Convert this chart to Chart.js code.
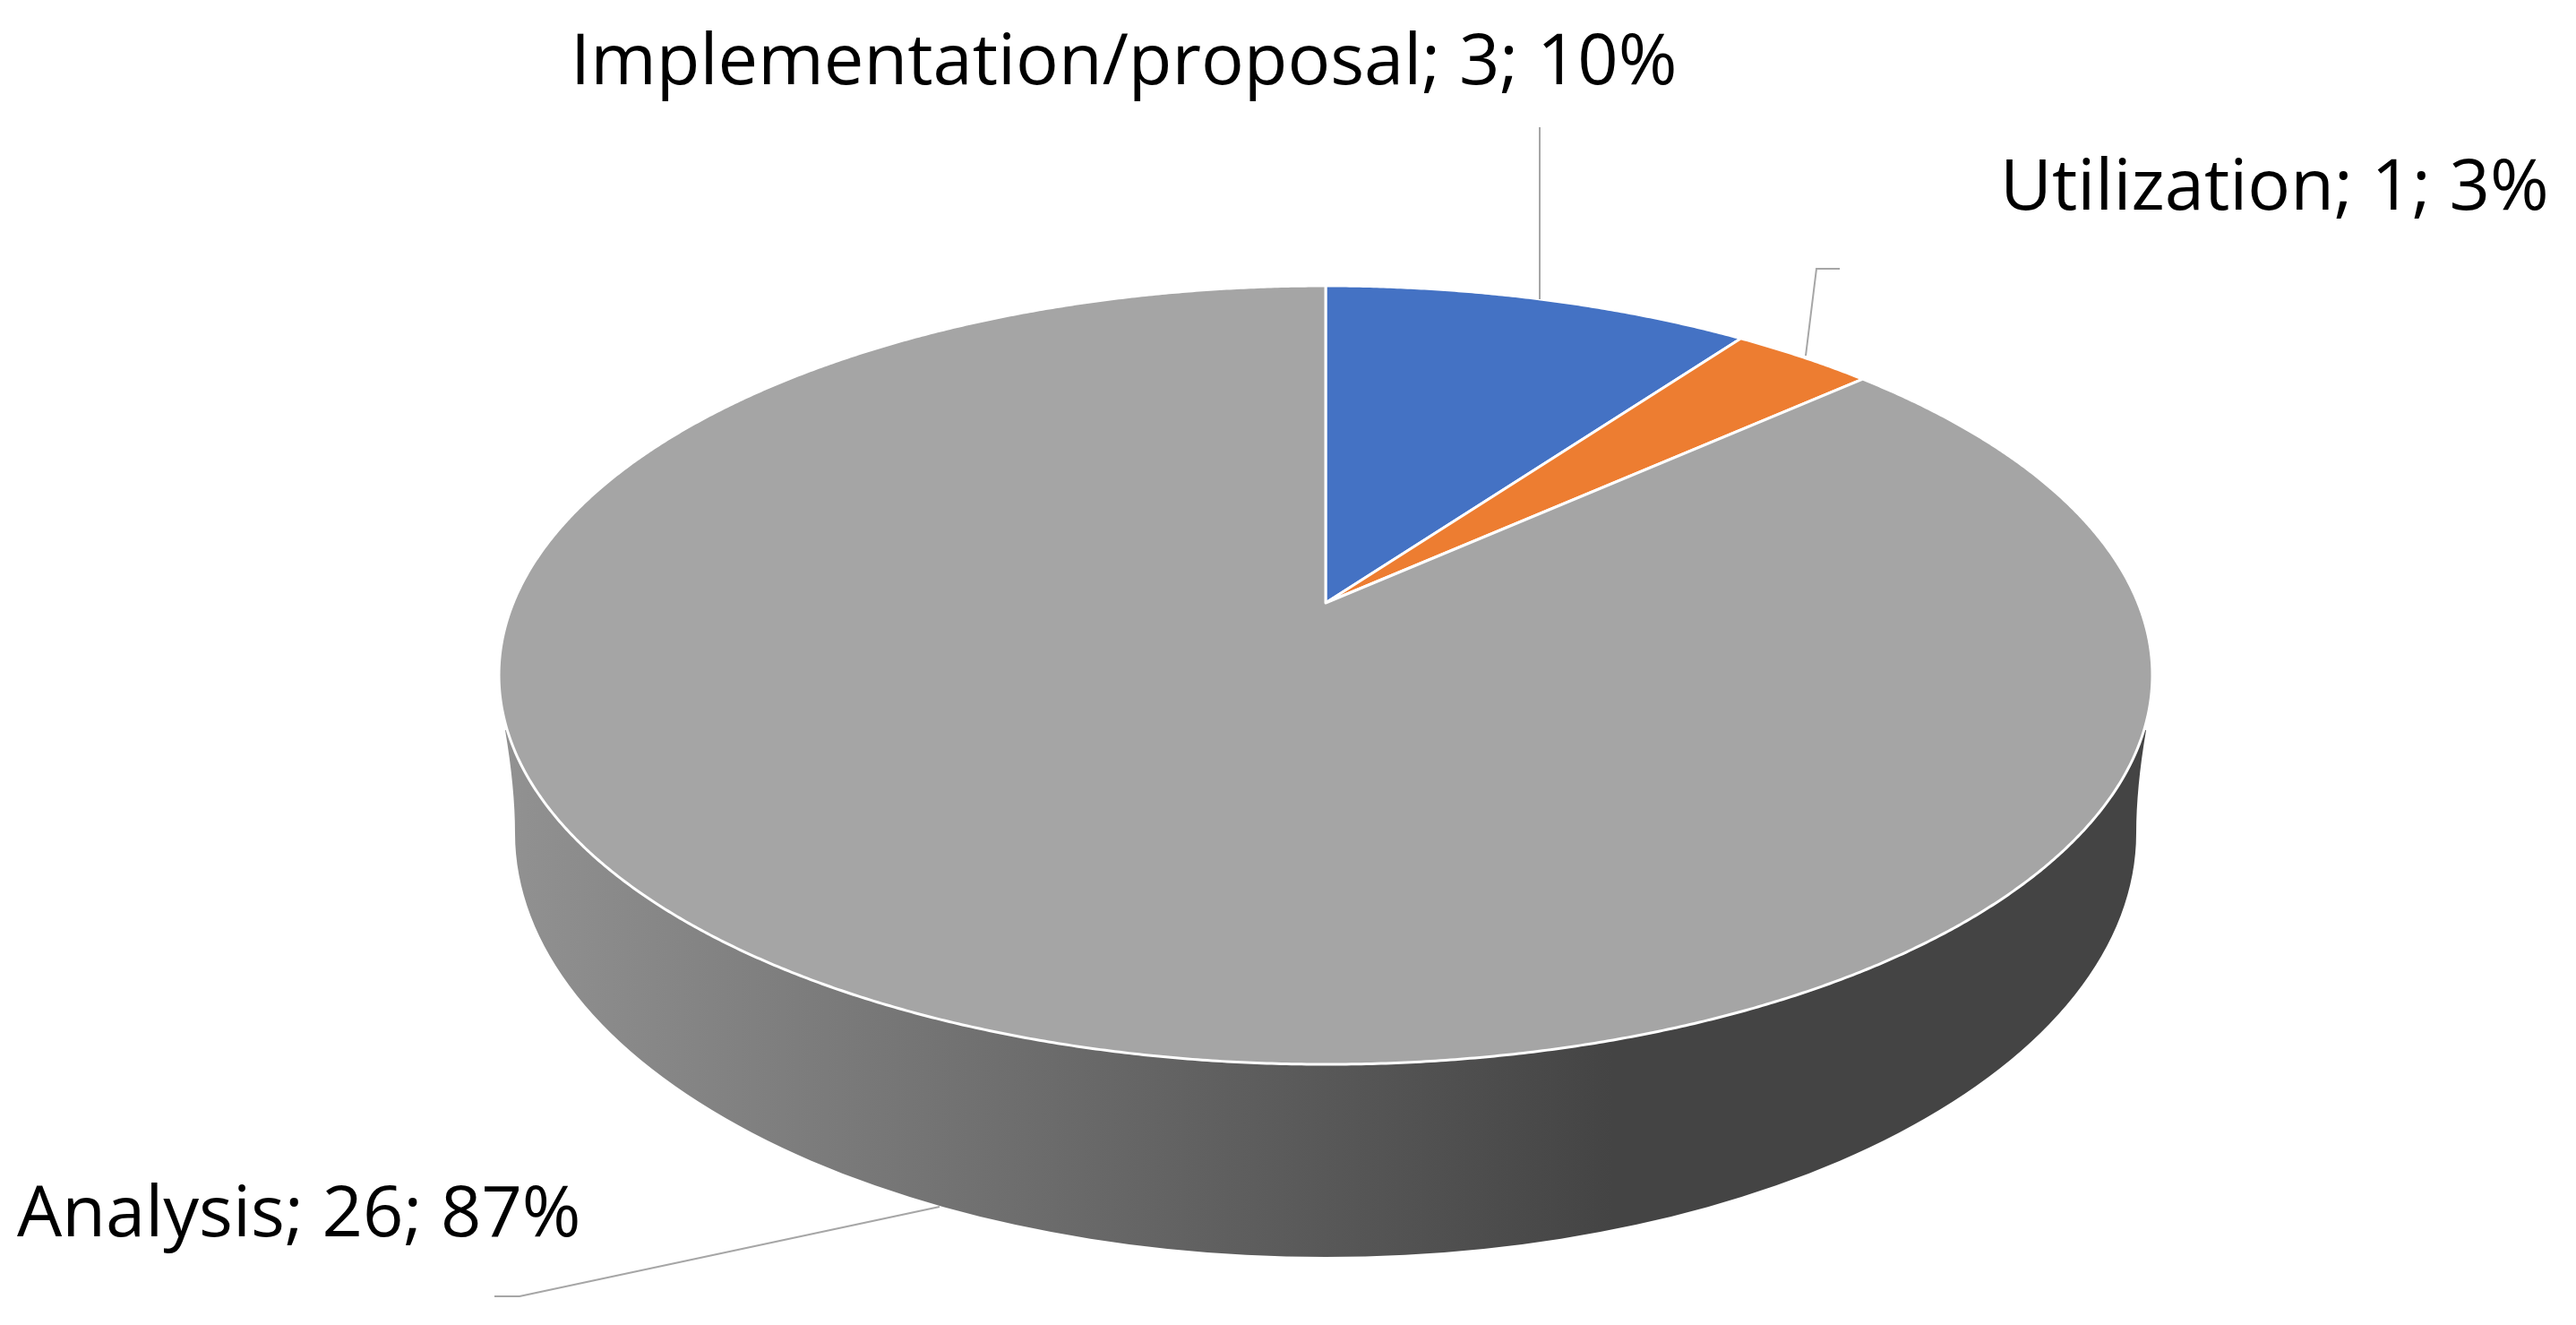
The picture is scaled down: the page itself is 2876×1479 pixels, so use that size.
<!DOCTYPE html>
<html>
<head>
<meta charset="utf-8">
<style>
  html, body { margin: 0; padding: 0; background: #fff; }
  canvas { display: block; }
</style>
<script src="https://cdn.jsdelivr.net/npm/chart.js@4"></script>
</head>
<body>
<canvas id="pieChart" width="2876" height="1479"></canvas>
<script>
// Data
const categories = ['Implementation/proposal', 'Utilization', 'Analysis'];
const counts = [3, 1, 26];
const sliceColors = ['#4472c4', '#ed7d31', '#a5a5a5'];

// Label and leader line placement, same order as categories
const labelFont = '79.5px "Open Sans"';
const labelAnchors = [[637, 94], [2233, 234], [19, 1380]];
const leaderLines = [
    [[1719, 142], [1719, 334]],
    [[2054, 300], [2028, 300], [2016, 397]],
    [[1049, 1347], [580, 1447], [552, 1447]]
];

// Tilted disc: homography from the library's unit circle to the canvas
const disc = { cx: 1480, apexY: 673, slope: 294.9, k: -0.1853, width: 907 };
const project = (u, v) => {
    const w = 1 + disc.k * v;
    return [disc.cx + disc.width * u / w, (disc.apexY + disc.slope * v) / w];
};

// Draw each slice on the tilted disc, angles come from the library
Chart.ArcElement.prototype.draw = function (ctx) {
    const { startAngle, endAngle } = this.getProps(['startAngle', 'endAngle']);
    const steps = Math.ceil((endAngle - startAngle) / 0.005);
    ctx.save();
    ctx.beginPath();
    ctx.moveTo(...project(0, 0));
    for (let i = 0; i <= steps; i++) {
        const a = startAngle + (endAngle - startAngle) * i / steps;
        ctx.lineTo(...project(Math.cos(a), Math.sin(a)));
    }
    ctx.closePath();
    ctx.fillStyle = this.options.backgroundColor;
    ctx.fill();
    ctx.strokeStyle = this.options.borderColor;
    ctx.lineWidth = this.options.borderWidth;
    ctx.lineJoin = 'round';
    ctx.stroke();
    ctx.restore();
};

// Side wall of the disc, under the slices
const sideWall = {
    id: 'sideWall',
    beforeDatasetsDraw(chart) {
        const ctx = chart.ctx;
        const grad = ctx.createLinearGradient(570, 0, 1800, 0);
        grad.addColorStop(0, '#919191');
        grad.addColorStop(1, '#444444');
        ctx.save();
        ctx.beginPath();
        ctx.moveTo(564, 815);
        ctx.quadraticCurveTo(575, 880, 575, 930);
        ctx.ellipse(1480, 930, 905, 473, 0, Math.PI, 0, true);
        ctx.quadraticCurveTo(2385, 880, 2396, 815);
        ctx.closePath();
        ctx.fillStyle = grad;
        ctx.fill();
        ctx.restore();
    }
};

// Labels and leader lines
const pieLabels = {
    id: 'pieLabels',
    afterDatasetsDraw(chart) {
        const ctx = chart.ctx;
        const total = counts.reduce((a, b) => a + b, 0);
        ctx.save();
        ctx.strokeStyle = '#a6a6a6';
        ctx.lineWidth = 2;
        leaderLines.forEach(line => {
            ctx.beginPath();
            line.forEach(([x, y], i) => i ? ctx.lineTo(x, y) : ctx.moveTo(x, y));
            ctx.stroke();
        });
        ctx.fillStyle = '#000';
        ctx.font = labelFont;
        ctx.textBaseline = 'alphabetic';
        categories.forEach((name, i) => {
            const pct = Math.round(counts[i] / total * 100);
            ctx.fillText(`${name}; ${counts[i]}; ${pct}%`, labelAnchors[i][0], labelAnchors[i][1]);
        });
        ctx.restore();
    }
};

new Chart(document.getElementById('pieChart'), {
    type: 'pie',
    data: {
        labels: categories,
        datasets: [{
            data: counts,
            backgroundColor: sliceColors,
            borderColor: '#ffffff',
            borderWidth: 3
        }]
    },
    options: {
        responsive: false,
        animation: false,
        plugins: {
            legend: { display: false },
            tooltip: { enabled: false }
        }
    },
    plugins: [sideWall, pieLabels]
});
</script>
</body>
</html>
